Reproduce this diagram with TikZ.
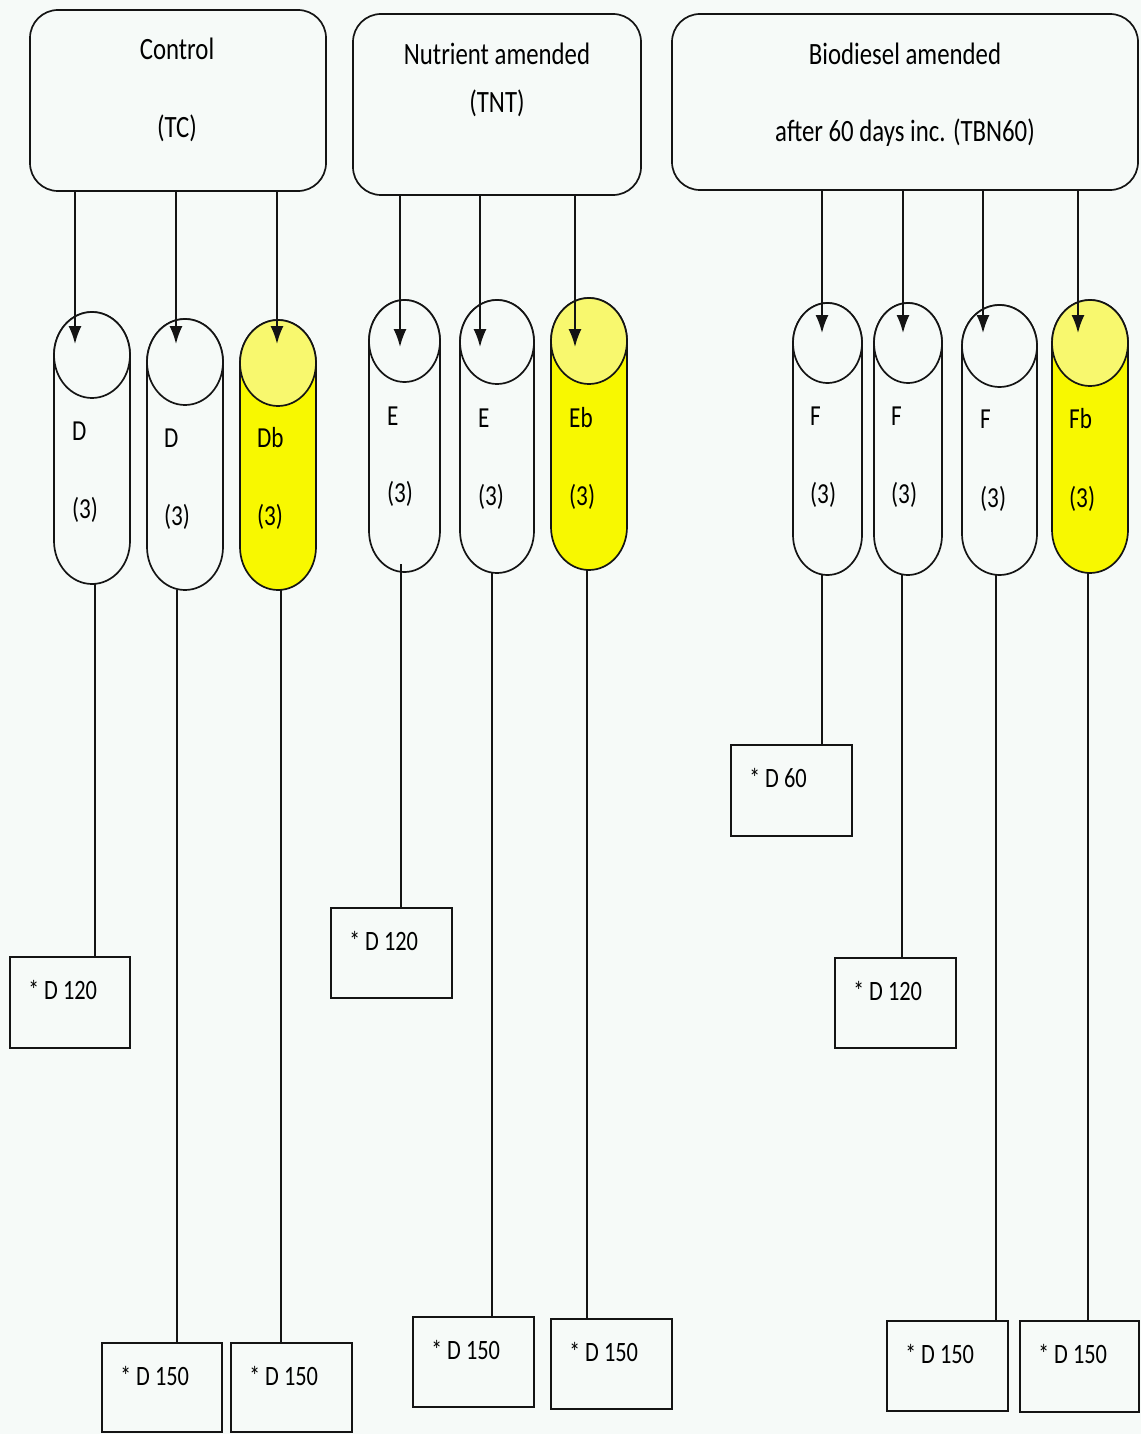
\documentclass[tikz,border=0pt]{standalone}
\usepackage{fontspec}
\setmainfont{Carlito}[FakeStretch=0.8]
\usetikzlibrary{arrows.meta}
\definecolor{bg}{RGB}{246,250,248}
\definecolor{yel}{RGB}{248,248,0}
\definecolor{yeltop}{RGB}{248,248,110}
\tikzset{
  x=1pt, y=1pt,
  ln/.style={line width=1.7pt, draw={rgb,255:red,20;green,20;blue,20}},
  hdr/.style={ln, rounded corners=28pt, fill=bg, inner sep=0pt},
  htxt/.style={font=\fontsize{31}{36}\selectfont, inner sep=0pt, anchor=base},
  ctxt/.style={font=\fontsize{29}{34}\selectfont, inner sep=0pt, anchor=base west},
  btxt/.style={font=\fontsize{28}{32}\selectfont, inner sep=0pt, anchor=base west},
  rbox/.style={ln, fill=bg, inner sep=0pt},
  cyl/.style={ln},
  arr/.style={ln, -{Latex[length=18pt,width=13pt]}}
}
% #1 name, #2 cx, #3 top, #4 bottom, #5 rx, #6 ry, #7 body fill, #8 top fill
\newcommand\capsule[8]{%
  \node[inner sep=0pt, minimum width={2*#5}, minimum height={#4-#3}] (#1) at (#2,{-(#3+#4)/2}) {};
  \filldraw[cyl, fill=#7] ({#2-#5},{-#3-#6}) -- ({#2-#5},{-#4+#6})
     arc[start angle=180,end angle=360,x radius=#5,y radius=#6]
     -- ({#2+#5},{-#3-#6})
     arc[start angle=0,end angle=180,x radius=#5,y radius=#6] -- cycle;
  \filldraw[cyl, fill=#8] (#2,{-#3-#6}) ellipse[x radius=#5,y radius=#6];
}
% #1 name, #2 x1, #3 y1, #4 x2, #5 y2, #6 text
\newcommand\resbox[6]{%
  \node[rbox, minimum width={#4-#2}, minimum height={#5-#3}] (#1) at ({(#2+#4)/2},{-(#3+#5)/2}) {};
  \node[btxt] (#1t) at ([xshift=19pt,yshift=-43pt]#1.north west) {{\fontsize{27}{27}\selectfont *} D #6};
}
\begin{document}
\begin{tikzpicture}
\fill[bg] (0,0) rectangle (1141,-1434);
\useasboundingbox (0,0) rectangle (1141,-1434);

% headers
\node[hdr, minimum width=296, minimum height=181] (tc) at (178,-100.5) {};
\node[hdr, minimum width=288, minimum height=181] (tnt) at (497,-104.5) {};
\node[hdr, minimum width=466, minimum height=176] (tbn) at (905,-102) {};
\node[htxt] (tc1) at (177,-60) {Control};
\node[htxt] (tc2) at (177,-138) {(TC)};
\node[htxt] (tnt1) at (497,-65) {Nutrient amended};
\node[htxt] (tnt2) at (497,-113) {(TNT)};
\node[htxt] (tbn1) at (905,-65) {Biodiesel amended};
\node[htxt] (tbn2) at (905,-142) {after 60 days inc. (TBN60)};

% result boxes
\resbox{bd1}{10}{957}{130}{1048}{120}
\resbox{bd2}{102}{1343}{222}{1432}{150}
\resbox{bdb}{231}{1343}{352}{1432}{150}
\resbox{be1}{331}{908}{452}{998}{120}
\resbox{be2}{413}{1317}{534}{1407}{150}
\resbox{beb}{551}{1319}{672}{1409}{150}
\resbox{bf1}{731}{745}{852}{836}{60}
\resbox{bf2}{835}{958}{956}{1048}{120}
\resbox{bf3}{887}{1321}{1008}{1411}{150}
\resbox{bfb}{1020}{1321}{1139}{1412}{150}

% tubes
\capsule{d1}{92}{312}{584}{38}{43}{bg}{bg}
\capsule{d2}{185}{319}{590}{38}{43}{bg}{bg}
\capsule{db}{278}{320}{590}{38}{43}{yel}{yeltop}
\capsule{e1}{404.5}{300}{572}{35.5}{41}{bg}{bg}
\capsule{e2}{497}{300}{573}{37}{42}{bg}{bg}
\capsule{eb}{589}{298}{570}{38}{43}{yel}{yeltop}
\capsule{f1}{827.5}{303}{575}{34.5}{40}{bg}{bg}
\capsule{f2}{908}{303}{575}{34}{40}{bg}{bg}
\capsule{f3}{999.5}{305}{575}{37.5}{41}{bg}{bg}
\capsule{fb}{1090}{300}{573}{38}{43}{yel}{yeltop}

% vertical line x positions
\coordinate (xd1) at (95,0);
\coordinate (xd2) at (177,0);
\coordinate (xdb) at (281,0);
\coordinate (xe1) at (401,0);
\coordinate (xe2) at (492,0);
\coordinate (xeb) at (587,0);
\coordinate (xf1) at (822,0);
\coordinate (xf2) at (902,0);
\coordinate (xf3) at (996,0);
\coordinate (xfb) at (1088,0);

% connectors from tubes to boxes
\draw[ln] (d1.south -| xd1) -- (bd1.north -| xd1);
\draw[ln] (d2.south -| xd2) -- (bd2.north -| xd2);
\draw[ln] (db.south -| xdb) -- (bdb.north -| xdb);
\draw[ln] ([yshift=8pt]e1.south -| xe1) -- (be1.north -| xe1);
\draw[ln] (e2.south -| xe2) -- (be2.north -| xe2);
\draw[ln] (eb.south -| xeb) -- (beb.north -| xeb);
\draw[ln] (f1.south -| xf1) -- (bf1.north -| xf1);
\draw[ln] (f2.south -| xf2) -- (bf2.north -| xf2);
\draw[ln] (f3.south -| xf3) -- (bf3.north -| xf3);
\draw[ln] (fb.south -| xfb) -- (bfb.north -| xfb);

% tube labels
\node[ctxt] (d1a) at (72,-440) {D};
\node[ctxt] (d1b) at (72,-518) {(3)};
\node[ctxt] (d2a) at (164,-447) {D};
\node[ctxt] (d2b) at (164,-525) {(3)};
\node[ctxt] (dba) at (257,-447) {Db};
\node[ctxt] (dbb) at (257,-525) {(3)};
\node[ctxt] (e1a) at (387,-425) {E};
\node[ctxt] (e1b) at (387,-502) {(3)};
\node[ctxt] (e2a) at (478,-427) {E};
\node[ctxt] (e2b) at (478,-505) {(3)};
\node[ctxt] (eba) at (569,-427) {Eb};
\node[ctxt] (ebb) at (569,-505) {(3)};
\node[ctxt] (f1a) at (810,-425) {F};
\node[ctxt] (f1b) at (810,-503) {(3)};
\node[ctxt] (f2a) at (891,-425) {F};
\node[ctxt] (f2b) at (891,-503) {(3)};
\node[ctxt] (f3a) at (980,-428) {F};
\node[ctxt] (f3b) at (980,-507) {(3)};
\node[ctxt] (fba) at (1069,-428) {Fb};
\node[ctxt] (fbb) at (1069,-507) {(3)};

% arrow tips
\coordinate (d1in) at (75,-344);
\coordinate (d2in) at (176,-344);
\coordinate (dbin) at (277,-344);
\coordinate (e1in) at (400,-347);
\coordinate (e2in) at (480,-347);
\coordinate (ebin) at (575,-347);
\coordinate (f1in) at (822,-333);
\coordinate (f2in) at (903,-333);
\coordinate (f3in) at (983,-333);
\coordinate (fbin) at (1078,-333);

\draw[arr] (tc.south -| d1in) -- (d1in);
\draw[arr] (tc.south -| d2in) -- (d2in);
\draw[arr] (tc.south -| dbin) -- (dbin);
\draw[arr] (tnt.south -| e1in) -- (e1in);
\draw[arr] (tnt.south -| e2in) -- (e2in);
\draw[arr] (tnt.south -| ebin) -- (ebin);
\draw[arr] (tbn.south -| f1in) -- (f1in);
\draw[arr] (tbn.south -| f2in) -- (f2in);
\draw[arr] (tbn.south -| f3in) -- (f3in);
\draw[arr] (tbn.south -| fbin) -- (fbin);
\end{tikzpicture}
\end{document}
